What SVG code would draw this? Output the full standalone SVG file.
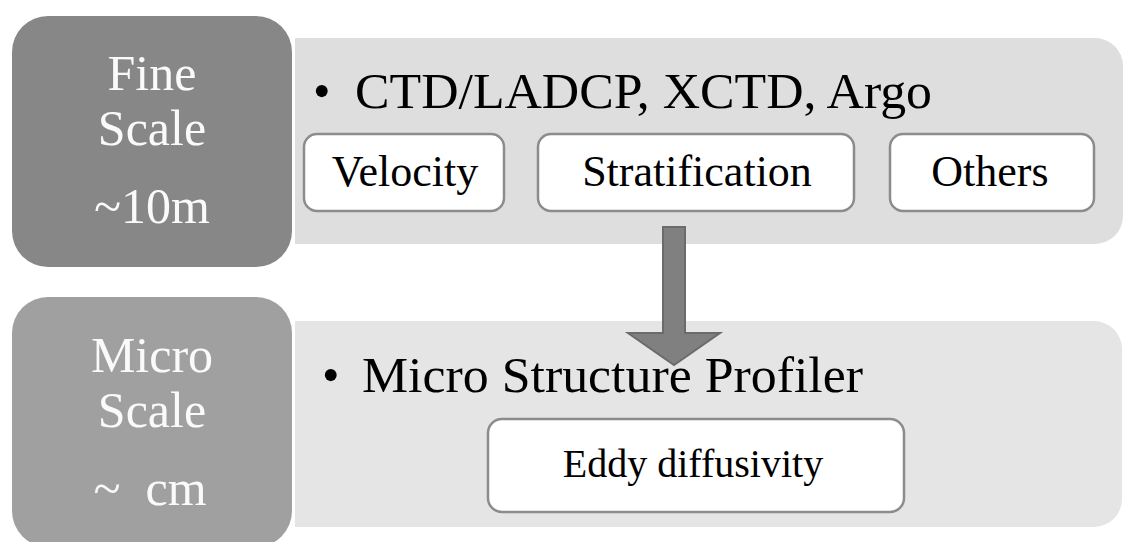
<svg xmlns="http://www.w3.org/2000/svg" width="1124" height="542" viewBox="0 0 1124 542">
  <style>
    text { font-family: 'Liberation Serif', 'Times New Roman', Times, serif; }
    .scale-label { font-size: 50px; fill: #fafafa; text-anchor: middle; }
    .bullet-line { font-size: 50px; fill: #000; }
    .item-box { fill: #ffffff; stroke: #8c8c8c; stroke-width: 2.5; }
    .item-label { font-size: 44px; fill: #000; text-anchor: middle; }
  </style>

  <rect width="1124" height="542" fill="#ffffff"/>

  <!-- Fine scale tier -->
  <g id="fine-panel">
    <path d="M295 38 H1095 A28 28 0 0 1 1123 66 V216 A28 28 0 0 1 1095 244 H295 Z" fill="#dedede"/>
    <text class="bullet-line" x="313" y="108">•</text>
    <text class="bullet-line" x="355" y="108" textLength="577" lengthAdjust="spacingAndGlyphs">CTD/LADCP, XCTD, Argo</text>
  </g>
  <g id="fine-scale">
    <rect x="12" y="16" width="280" height="251" rx="36" fill="#878787"/>
    <text class="scale-label" x="152" y="90">Fine</text>
    <text class="scale-label" x="152" y="145">Scale</text>
    <text class="scale-label" x="152" y="223">~10m</text>
  </g>
  <g id="velocity">
    <rect class="item-box" x="304" y="134" width="200" height="77" rx="13"/>
    <text class="item-label" x="405" y="186">Velocity</text>
  </g>
  <g id="stratification">
    <rect class="item-box" x="538" y="134" width="316" height="77" rx="13"/>
    <text class="item-label" x="697" y="186">Stratification</text>
  </g>
  <g id="others">
    <rect class="item-box" x="890" y="134" width="204" height="77" rx="13"/>
    <text class="item-label" x="990" y="186">Others</text>
  </g>

  <!-- Micro scale tier -->
  <g id="micro-panel">
    <path d="M295 321 H1094 A28 28 0 0 1 1122 349 V499 A28 28 0 0 1 1094 527 H295 Z" fill="#e5e5e5"/>
    <text class="bullet-line" x="322" y="392">•</text>
    <text class="bullet-line" x="362" y="392" textLength="501" lengthAdjust="spacingAndGlyphs">Micro Structure Profiler</text>
  </g>
  <g id="micro-scale">
    <rect x="12" y="297" width="280" height="250" rx="36" fill="#a0a0a0"/>
    <text class="scale-label" x="152" y="372">Micro</text>
    <text class="scale-label" x="152" y="427">Scale</text>
    <text class="scale-label" x="150" y="505" xml:space="preserve">~  cm</text>
  </g>
  <g id="eddy-diffusivity">
    <rect class="item-box" x="488" y="419" width="416" height="93" rx="14"/>
    <text class="item-label" x="693" y="477" style="font-size:40px">Eddy diffusivity</text>
  </g>

  <!-- Connector between tiers -->
  <g id="connectors">
    <path d="M663 227 H685 V333 H720 L674 365 L628 333 H663 Z" fill="#808080" stroke="#6b6b6b" stroke-width="2" stroke-linejoin="miter"/>
  </g>
</svg>
